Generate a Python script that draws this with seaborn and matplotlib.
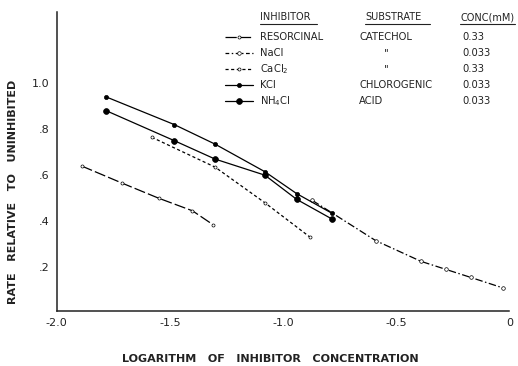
import matplotlib
matplotlib.use("Agg")
import matplotlib.pyplot as plt
import seaborn as sns
import pandas as pd
from matplotlib.lines import Line2D

# ---- data ----
resorcinal_x = [-1.89, -1.71, -1.55, -1.40, -1.31]
resorcinal_y = [0.64, 0.565, 0.50, 0.445, 0.385]

nacl_x = [-0.87, -0.59, -0.39, -0.28, -0.17, -0.03]
nacl_y = [0.49, 0.315, 0.225, 0.19, 0.155, 0.11]

cacl2_x = [-1.58, -1.30, -1.08, -0.88]
cacl2_y = [0.765, 0.635, 0.48, 0.33]

kcl_x = [-1.78, -1.48, -1.30, -1.08, -0.94, -0.785]
kcl_y = [0.94, 0.82, 0.735, 0.615, 0.52, 0.435]

nh4cl_x = [-1.78, -1.48, -1.30, -1.08, -0.94, -0.785]
nh4cl_y = [0.88, 0.75, 0.67, 0.60, 0.495, 0.41]

inhibitors = ["RESORCINAL", "NaCl", "CaCl$_2$", "KCl", "NH$_4$Cl"]
substrates = ["CATECHOL", '"', '"', "CHLOROGENIC", "ACID"]
concs = ["0.33", "0.033", "0.33", "0.033", "0.033"]

x_ticks = [-2.0, -1.5, -1.0, -0.5, 0.0]
x_ticklabels = ["-2.0", "-1.5", "-1.0", "-0.5", "0"]
y_ticks = [0.2, 0.4, 0.6, 0.8, 1.0]
y_ticklabels = [".2", ".4", ".6", ".8", "1.0"]

# ---- styles ----
styles = [
    dict(dashes=(9, 2.5), marker="o", ms=2.2, mfc="white", mew=0.5),
    dict(dashes=(6, 2, 1.2, 2), marker="o", ms=2.6, mfc="white", mew=0.5),
    dict(dashes=(2.5, 2), marker="o", ms=2.2, mfc="white", mew=0.5),
    dict(dashes=None, marker="o", ms=3.0, mfc="black", mew=0.5),
    dict(dashes=None, marker="o", ms=4.2, mfc="black", mew=0.5),
]

sns.set_style("white")
plt.rcParams["font.family"] = ["DejaVu Sans"]

W, H = 518, 366
fig = plt.figure(figsize=(W / 100, H / 100), dpi=100)
ax = fig.add_axes([56.7 / W, 55 / H, (509.3 - 56.7) / W, (311 - 12) / H])

series = [(resorcinal_x, resorcinal_y), (nacl_x, nacl_y), (cacl2_x, cacl2_y),
          (kcl_x, kcl_y), (nh4cl_x, nh4cl_y)]

for (xs, ys), name, st in zip(series, inhibitors, styles):
    df = pd.DataFrame({"x": xs, "y": ys})
    kw = dict(color="black", linewidth=0.9, marker=st["marker"],
              markersize=st["ms"], markerfacecolor=st["mfc"],
              markeredgecolor="black", markeredgewidth=st["mew"])
    sns.lineplot(data=df, x="x", y="y", ax=ax, sort=False, estimator=None, **kw)
    line = ax.lines[-1]
    if st["dashes"] is not None:
        line.set_dashes(st["dashes"])

ax.set_xlim(-2.0, 0.0)
ax.set_ylim(0.009, 1.31)
ax.set_xticks(x_ticks)
ax.set_xticklabels(x_ticklabels)
ax.set_yticks(y_ticks)
ax.set_yticklabels(y_ticklabels)
ax.tick_params(direction="in", length=3, width=0.8, labelsize=8, colors="#222222",
               pad=5)
for s in ["top", "right"]:
    ax.spines[s].set_visible(False)
for s in ["left", "bottom"]:
    ax.spines[s].set_linewidth(1.1)
    ax.spines[s].set_color("#222222")

ax.set_xlabel("LOGARITHM   OF   INHIBITOR   CONCENTRATION", fontsize=8,
              color="#222222", fontweight="bold")
ax.set_ylabel("RATE   RELATIVE   TO   UNINHIBITED", fontsize=8,
              color="#222222", fontweight="bold")
ax.xaxis.set_label_coords((270 - 56.7) / (509.3 - 56.7), -(354 - 311) / (311 - 12))
ax.yaxis.set_label_coords(-(57 - 18) / (509.3 - 56.7), (311 - 192) / (311 - 12))

# ---- table-style legend ----
def fx(px):
    return px / W

def fy(py):
    return 1 - py / H

txt_kw = dict(fontsize=7.2, color="#222222", va="center", transform=fig.transFigure)
headers = [("INHIBITOR", 260, 317, "left"), ("SUBSTRATE", 365, 430, "left"),
           ("CONC(mM)", 460, 515, "right")]
for label, x0, x1, ha in headers:
    fig.text(fx(x0) if ha == "left" else fx(x1), fy(17), label, ha=ha,
             fontsize=7.0, color="#222222", va="center", transform=fig.transFigure)
    fig.add_artist(Line2D([fx(x0), fx(x1)], [fy(23.5), fy(23.5)], color="#222222",
                          lw=0.8, transform=fig.transFigure))

row_y = [37, 53, 69, 85, 101]
for ry, name, sub, conc, st in zip(row_y, inhibitors, substrates, concs, styles):
    ln = Line2D([fx(225), fx(253)], [fy(ry), fy(ry)], color="black", lw=0.9,
                transform=fig.transFigure)
    if st["dashes"] is not None:
        d = st["dashes"]
        ln.set_dashes((d[0] * 0.5,) + tuple(d[1:]) if len(d) > 2 else d)
    fig.add_artist(ln)
    fig.add_artist(Line2D([fx(239)], [fy(ry)], marker="o", markersize=st["ms"],
                          markerfacecolor=st["mfc"], markeredgecolor="black",
                          markeredgewidth=st["mew"], linestyle="none",
                          transform=fig.transFigure))
    fig.text(fx(260), fy(ry), name, ha="left", **txt_kw)
    if sub == '"':
        fig.text(fx(386), fy(ry), sub, ha="center", **txt_kw)
    else:
        fig.text(fx(359), fy(ry), sub, ha="left", **txt_kw)
    fig.text(fx(462), fy(ry), conc, ha="left", **txt_kw)

fig.savefig("out.png", dpi=100)
